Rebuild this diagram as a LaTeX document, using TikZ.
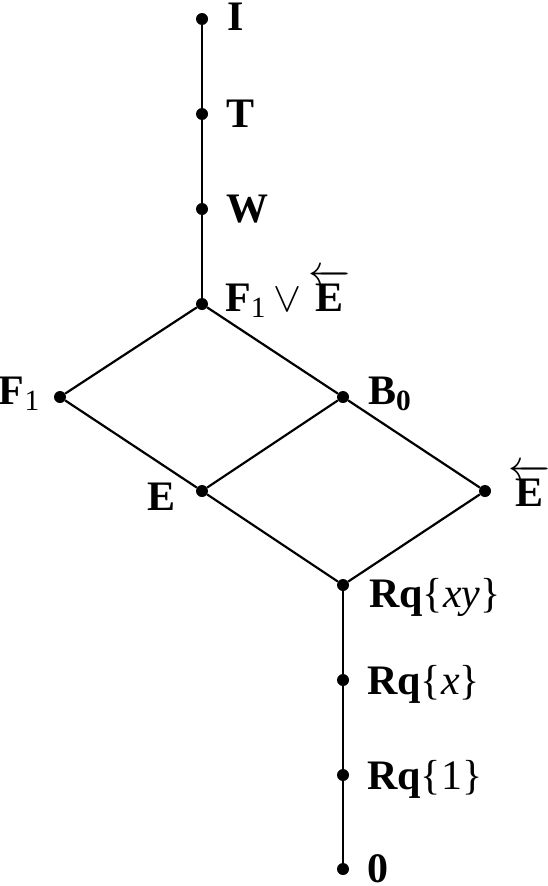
\RequirePackage{fix-cm}
\documentclass[tikz,border=0pt]{standalone}
\usepackage{fontspec}
\setmainfont{Liberation Serif}
\begin{document}
\begin{tikzpicture}[x=1pt,y=-1pt,
  dot/.style={circle,fill=black,inner sep=0pt,minimum size=12pt},
  edge/.style={line width=2.2pt},
  lbl/.style={inner sep=0pt,font=\fontsize{42}{50}\selectfont}]
\useasboundingbox (0,0) rectangle (547,886);
\node[dot] (I) at (202,19) {};
\node[dot] (T) at (202,114) {};
\node[dot] (W) at (202,209) {};
\node[dot] (FE) at (202,304) {};
\node[dot] (F1) at (60,397) {};
\node[dot] (B0) at (343,397) {};
\node[dot] (E) at (202,491) {};
\node[dot] (Ea) at (485,491) {};
\node[dot] (Rxy) at (343,585) {};
\node[dot] (Rx) at (343,680) {};
\node[dot] (R1) at (343,775) {};
\node[dot] (Z) at (343,869) {};
\draw[edge] (I) -- (T) -- (W) -- (FE);
\draw[edge] (FE) -- (F1) -- (E) -- (Rxy);
\draw[edge] (FE) -- (B0) -- (Ea) -- (Rxy);
\draw[edge] (B0) -- (E);
\draw[edge] (Rxy) -- (Rx) -- (R1) -- (Z);
\node[lbl,anchor=base west] (lI) at (227,30) {\textbf{I}};
\node[lbl,anchor=base west] (lT) at (226,127) {\textbf{T}};
\node[lbl,anchor=base west] (lW) at (226,222) {\textbf{W}};
\node[lbl,anchor=base west] (lFE) at (225,311) {\textbf{F}\textsubscript{1}\,$\vee$\,$\overleftarrow{\hbox{\textbf{E}}}$};
\node[lbl,anchor=base east] (lF1) at (40,404) {\textbf{F}\textsubscript{1}};
\node[lbl,anchor=base west] (lB0) at (368,404) {\textbf{B}\textsubscript{\textbf{0}}};
\node[lbl,anchor=base east] (lE) at (176,510) {\textbf{E}};
\node[lbl,anchor=base west] (lEa) at (508,506) {$\overleftarrow{\hbox{\textbf{E}}}$};
\node[lbl,anchor=base west] (lRxy) at (369,607) {\textbf{Rq}\{\textit{xy}\}};
\node[lbl,anchor=base west] (lRx) at (367,694) {\textbf{Rq}\{\textit{x}\}};
\node[lbl,anchor=base west] (lR1) at (367,789) {\textbf{Rq}\{1\}};
\node[lbl,anchor=base west] (lZ) at (367,882) {\textbf{0}};
\end{tikzpicture}
\end{document}
